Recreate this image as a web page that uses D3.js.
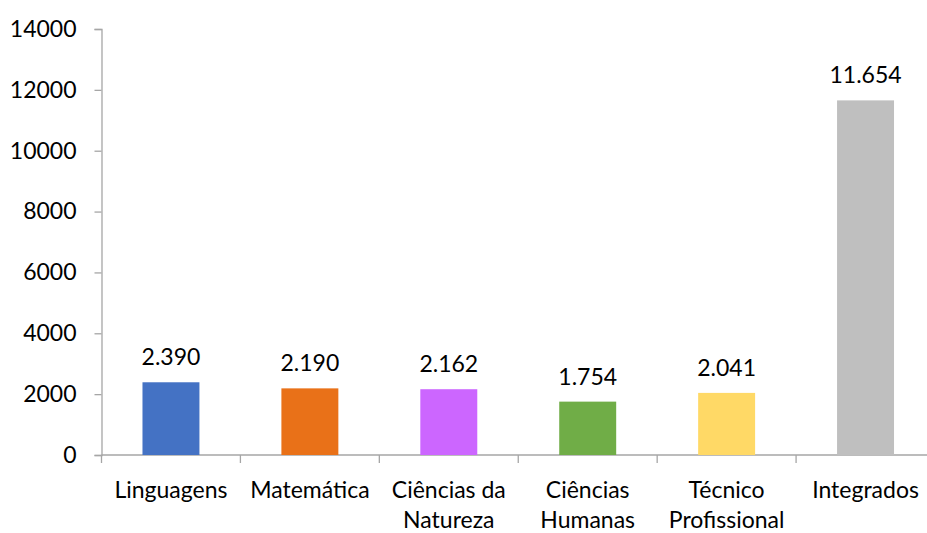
<!DOCTYPE html>
<html>
<head>
<meta charset="utf-8">
<script src="https://cdn.jsdelivr.net/npm/d3@7"></script>
<style>
  body { margin: 0; background: #fff; }
  #wrapper { width: 927px; height: 533px; overflow: hidden; }
  text { font-family: Lato, "Open Sans", sans-serif; fill: #000; }
</style>
</head>
<body>
<div id="wrapper"></div>
<script>
const categories = ["Linguagens", "Matemática", "Ciências da\nNatureza", "Ciências\nHumanas", "Técnico\nProfissional", "Integrados"];
const values = [2390, 2190, 2162, 1754, 2041, 11654];
const barColors = ["#4472C4", "#E97118", "#CC66FF", "#70AD47", "#FFD966", "#BFBFBF"];
const yTicks = [0, 2000, 4000, 6000, 8000, 10000, 12000, 14000];

const dimensions = { width: 927, height: 533 };
const fontSize = 23;

const ptBR = d3.formatLocale({ decimal: ",", thousands: ".", grouping: [3], currency: ["R$", ""] });
const fmt = ptBR.format(",d");

const svg = d3.select("#wrapper")
  .append("svg")
  .attr("width", dimensions.width)
  .attr("height", dimensions.height);

const xScale = d3.scaleBand()
  .domain(categories)
  .range([101.5, 935])
  .paddingInner(0.59)
  .paddingOuter(0.295);

const yScale = d3.scaleLinear()
  .domain([0, 14000])
  .range([455, 29]);

// y axis
const yAxis = svg.append("g")
  .attr("transform", "translate(101.5,0)")
  .call(d3.axisLeft(yScale).tickValues(yTicks).tickFormat(d3.format("d")).tickSize(7).tickPadding(18));
yAxis.select(".domain").attr("stroke", "#A6A6A6").attr("stroke-width", 1.3);
yAxis.selectAll(".tick line").attr("stroke", "#A6A6A6").attr("stroke-width", 1.3);
yAxis.selectAll(".tick text")
  .style("font-family", "Lato, 'Open Sans', sans-serif")
  .style("font-size", fontSize + "px")
  .attr("fill", "#000");

// x axis baseline + ticks between categories
const xAxisG = svg.append("g");
xAxisG.append("line")
  .attr("x1", 101.5).attr("x2", 935)
  .attr("y1", yScale(0)).attr("y2", yScale(0))
  .attr("stroke", "#A6A6A6").attr("stroke-width", 1.3);
xAxisG.selectAll("line.sep")
  .data(categories)
  .enter()
  .append("line")
  .classed("sep", true)
  .attr("x1", (d) => xScale(d) - xScale.step() * xScale.paddingInner() / 2)
  .attr("x2", (d) => xScale(d) - xScale.step() * xScale.paddingInner() / 2)
  .attr("y1", yScale(0))
  .attr("y2", yScale(0) + 8)
  .attr("stroke", "#A6A6A6").attr("stroke-width", 1.3);

// bars
svg.append("g")
  .selectAll("rect")
  .data(values)
  .enter()
  .append("rect")
  .attr("x", (d, i) => xScale(categories[i]))
  .attr("y", (d) => yScale(d))
  .attr("width", xScale.bandwidth())
  .attr("height", (d) => yScale(0) - yScale(d))
  .attr("fill", (d, i) => barColors[i]);

// value labels
svg.append("g")
  .selectAll("text")
  .data(values)
  .enter()
  .append("text")
  .attr("x", (d, i) => xScale(categories[i]) + xScale.bandwidth() / 2)
  .attr("y", (d) => yScale(d) - 17)
  .attr("text-anchor", "middle")
  .style("font-size", fontSize + "px")
  .text((d) => fmt(d));

// category labels
const catLabels = svg.append("g")
  .selectAll("text")
  .data(categories)
  .enter()
  .append("text")
  .attr("x", (d) => xScale(d) + xScale.bandwidth() / 2)
  .attr("y", 498)
  .attr("text-anchor", "middle")
  .style("font-size", fontSize + "px");
catLabels.each(function (d) {
  const t = d3.select(this);
  d.split("\n").forEach((line, i) => {
    t.append("tspan")
      .attr("x", t.attr("x"))
      .attr("dy", i === 0 ? 0 : 30)
      .text(line);
  });
});
</script>
</body>
</html>
